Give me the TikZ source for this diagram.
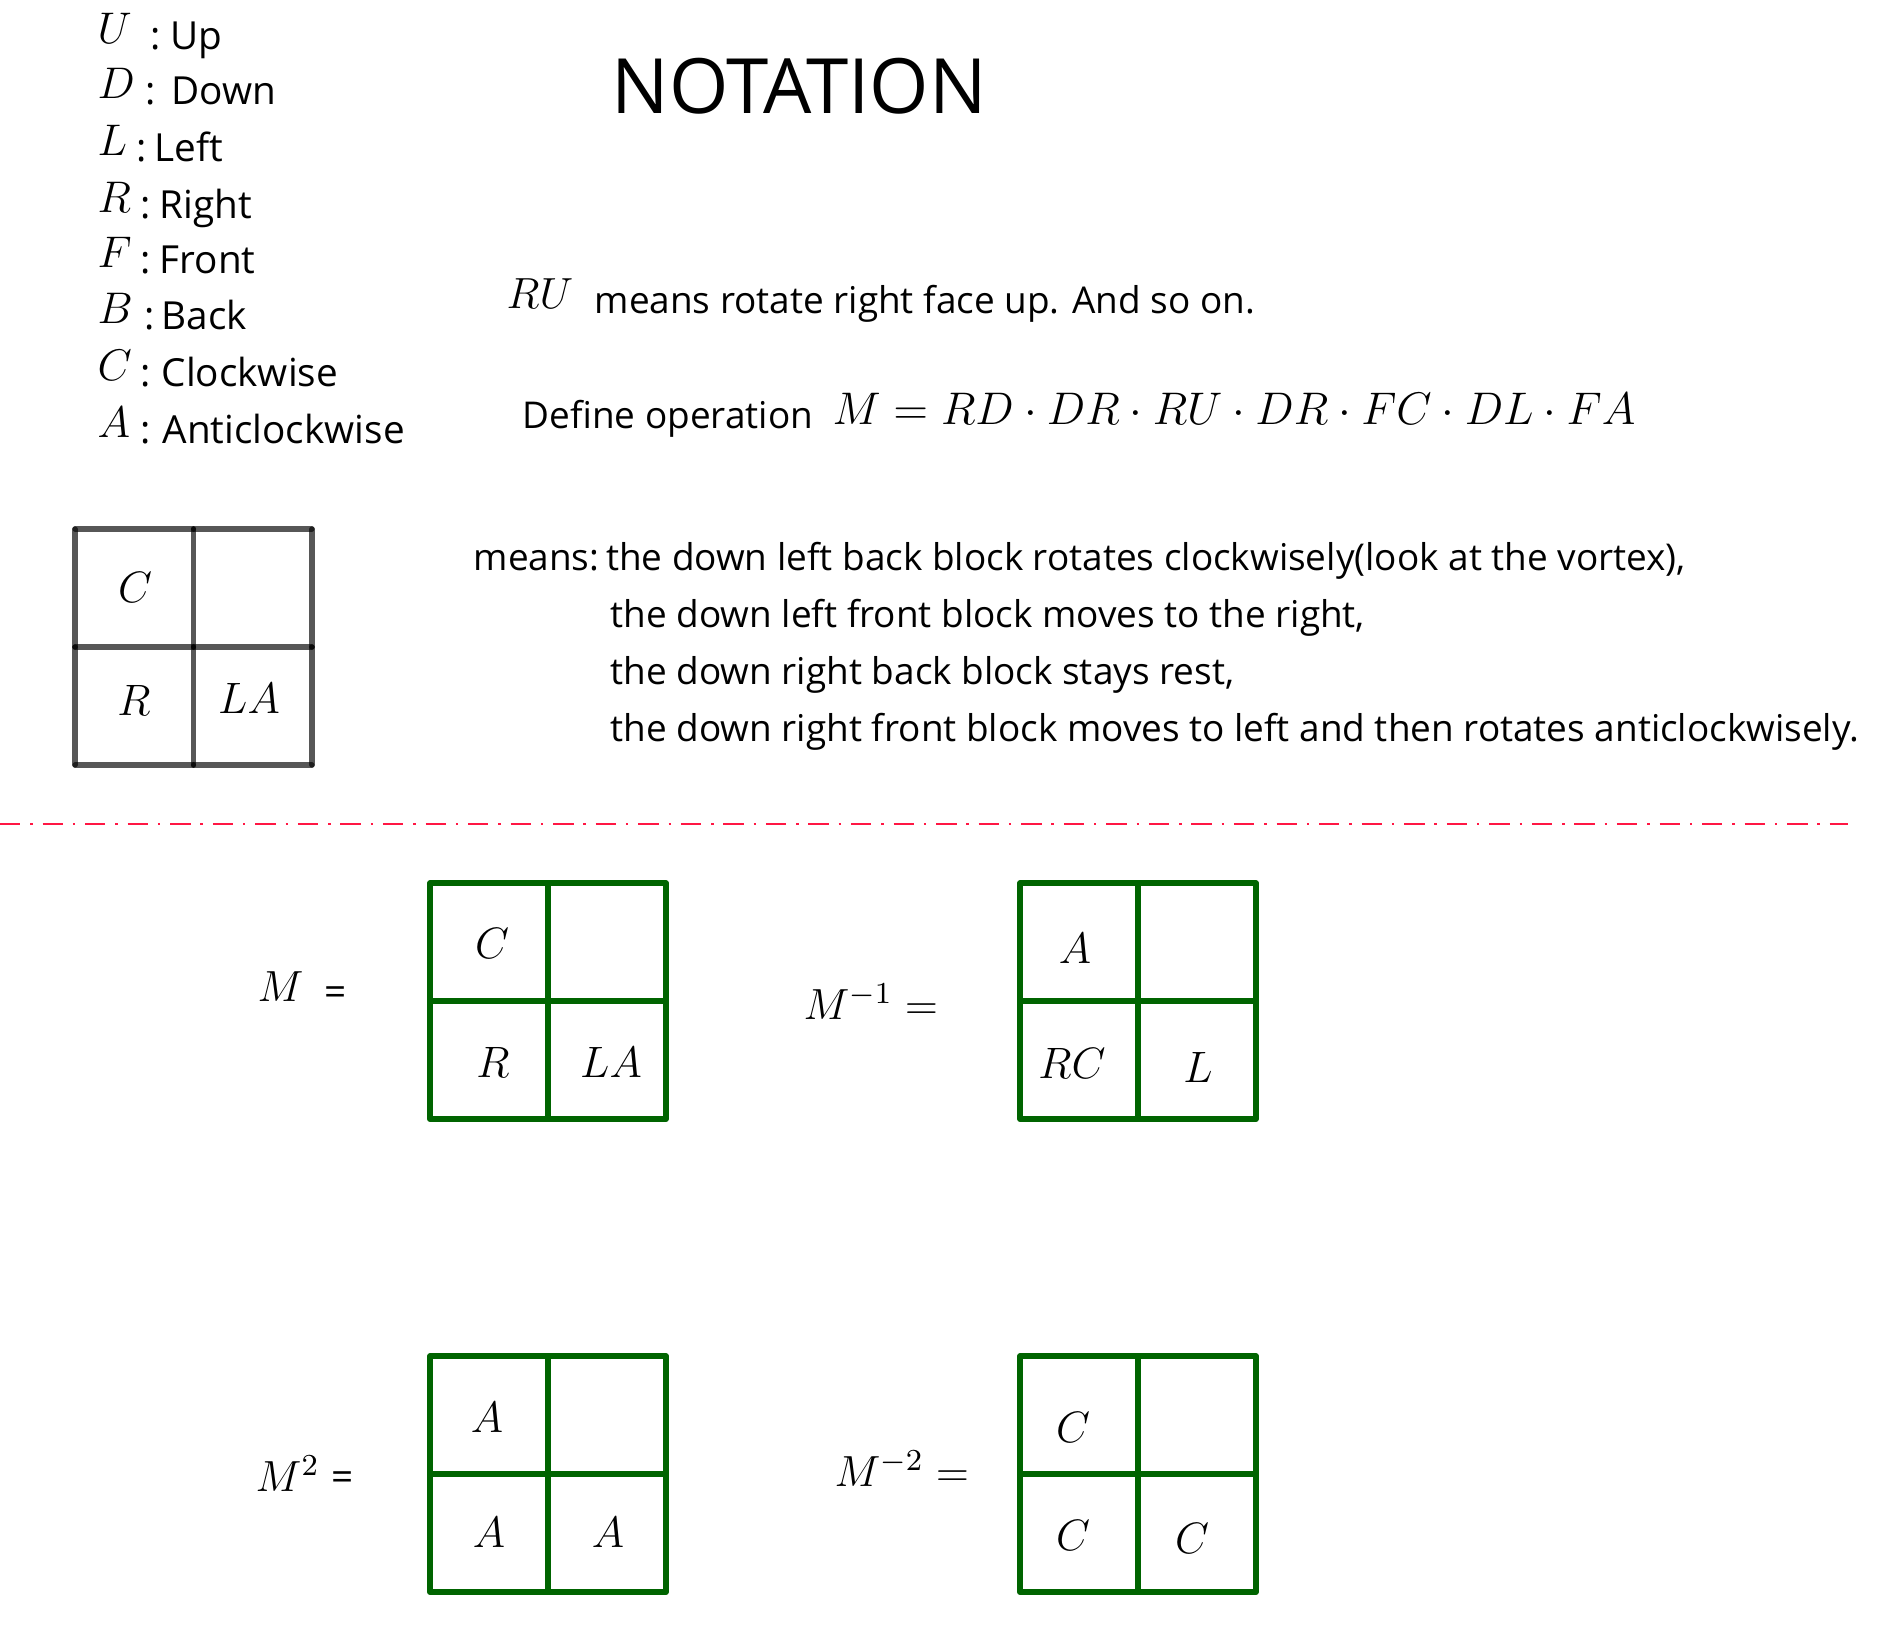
\RequirePackage{fix-cm}
\documentclass[tikz,border=0pt]{standalone}
\usepackage[no-math]{fontspec}
\setmainfont{Open Sans}
\definecolor{gridgreen}{RGB}{0,100,0}
\definecolor{cutred}{RGB}{255,23,68}
\tikzset{
  legmath/.style={anchor=base west,inner sep=0pt,font=\fontsize{12.6pt}{15pt}\selectfont},
  legtxt/.style={anchor=base west,inner sep=0pt,font=\fontsize{11pt}{13pt}\selectfont},
  bodytxt/.style={anchor=base west,inner sep=0pt,font=\fontsize{10.5pt}{12pt}\selectfont},
  bodymath/.style={anchor=base west,inner sep=0pt,font=\fontsize{12.4pt}{15pt}\selectfont},
  celllbl/.style={inner sep=0pt,font=\fontsize{12.5pt}{15pt}\selectfont},
  greengrid/.style={draw=gridgreen,line width=1.65pt,line join=round},
  graygrid/.style={draw=black,draw opacity=0.66,line width=1.45pt,line cap=round},
  cutline/.style={draw=cutred,line width=0.75pt,dash pattern=on 5.8pt off 2.8pt on 0.7pt off 2.8pt}
}
\begin{document}
\begin{tikzpicture}[x=0.01cm,y=-0.01cm]
  \useasboundingbox (0,0) rectangle (1887,1632);
  % legend of the letters
  \foreach \sym/\ym/\xc/\xw/\word [count=\i] in {U/43/150/170/Up, D/98/145/171/Down,
      L/155/136/154/Left, R/212/140/159/Right, F/267/140/159/Front, B/323/144/161/Back,
      C/380/140/161/Clockwise, A/437/140/162/Anticlockwise}{
    \node[legmath] (sym\i) at (97,\ym) {$\sym$};
    \node[legtxt] (colon\i) at (\xc,\ym+6) {:};
    \node[legtxt] (word\i) at (\xw,\ym+6) {\word};
  }
  \node[anchor=base west,inner sep=0pt,font=\fontsize{21.7pt}{26pt}\selectfont] (title) at (611,113) {NOTATION};
  \node[bodymath] (ru) at (506,308) {$RU$};
  \node[bodytxt] (rutxt) at (594,313) {means rotate right face up. And so on.};
  \node[bodytxt] (deftxt) at (522,428) {Define operation};
  \node[bodymath,font=\fontsize{13pt}{16pt}\selectfont] (defmath) at (832,424) {$M = RD\cdot DR\cdot RU\cdot DR\cdot FC\cdot DL\cdot FA$};
  % the example block
  \foreach \r in {0,1,2}
    \foreach \c in {0,1}{
      \draw[graygrid] (75+118.5*\c,529+118*\r) -- ++(118.5,0);
      \draw[graygrid] (75+118.5*\r,529+118*\c) -- ++(0,118);
    }
  \node[celllbl] (exc) at (135,587) {$C$};
  \node[celllbl] (exr) at (134,700) {$R$};
  \node[celllbl] (exla) at (249,698) {$LA$};
  \node[bodytxt] (mean1) at (473,570) {means:\hspace{0.18em}the down left back block rotates clockwisely(look at the vortex),};
  \node[bodytxt] (mean2) at (610,627) {the down left front block moves to the right,};
  \node[bodytxt] (mean3) at (610,684) {the down right back block stays rest,};
  \node[bodytxt] (mean4) at (610,741) {the down right front block moves to left and then rotates anticlockwisely.};
  % cut line
  \coordinate (cutL) at (0,824);
  \coordinate (cutR) at (1848,824);
  \draw[cutline] (cutL) -- (cutR);
  % the four results
  \foreach \gx/\gy in {430/883, 1020/883, 430/1356, 1020/1356}{
    \draw[greengrid] (\gx,\gy) rectangle ++(236,236);
    \draw[greengrid] (\gx+118,\gy) -- ++(0,236);
    \draw[greengrid] (\gx,\gy+118) -- ++(236,0);
  }
  \node[bodymath] (mlbl) at (257,1001) {$M$};
  \node[legtxt] (meq) at (324,1005) {=};
  \node[celllbl] (mc) at (492,943) {$C$};
  \node[celllbl] (mr) at (493,1062) {$R$};
  \node[celllbl] (mla) at (611,1062) {$LA$};
  \node[bodymath] (minvlbl) at (803,1019) {$M^{-1} =$};
  \node[celllbl] (minva) at (1075,948) {$A$};
  \node[celllbl] (minvrc) at (1072,1063) {$RC$};
  \node[celllbl] (minvl) at (1198,1067) {$L$};
  \node[bodymath] (mtwolbl) at (255,1491) {$M^{2}$};
  \node[legtxt] (mtwoeq) at (331,1490) {=};
  \node[celllbl] (mtwoa) at (487,1417) {$A$};
  \node[celllbl] (mtwob) at (489,1532) {$A$};
  \node[celllbl] (mtwoc) at (608,1532) {$A$};
  \node[bodymath] (minvtwolbl) at (834,1486) {$M^{-2} =$};
  \node[celllbl] (minvtwoa) at (1073,1427) {$C$};
  \node[celllbl] (minvtwob) at (1073,1535) {$C$};
  \node[celllbl] (minvtwoc) at (1192,1538) {$C$};
\end{tikzpicture}
\end{document}
